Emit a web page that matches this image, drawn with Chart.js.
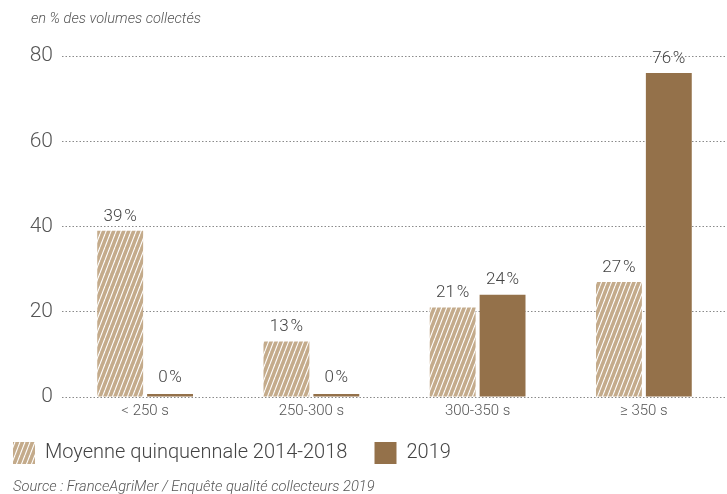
<!DOCTYPE html>
<html lang="fr">
<head>
  <meta charset="UTF-8" />
  <title>Volumes collectés par temps de chute</title>
  <script src="https://cdn.jsdelivr.net/npm/chart.js"></script>
  <style>
    body { margin: 0; background: #fff; }
    .wrap { position: relative; width: 727px; height: 494px; }
    .unit { position: absolute; left: 31px; top: 9px; font: italic 300 14.6px Roboto, sans-serif; color: #555; }
    .source { position: absolute; left: 13px; top: 477px; font: italic 300 14.7px Roboto, sans-serif; color: #555; }
  </style>
</head>
<body>
  <div class="wrap">
    <canvas id="chuteChart" width="727" height="494"></canvas>
    <div class="unit">en % des volumes collectés</div>
    <div class="source">Source : FranceAgriMer / Enquête qualité collecteurs 2019</div>
  </div>

  <script>
    const categories = ['< 250 s', '250-300 s', '300-350 s', '≥ 350 s'];
    const moyenne = [39, 13, 21, 27];
    const annee2019 = [0, 0, 24, 76];
    const yTicks = [0, 20, 40, 60, 80];

    const beige = '#c4ab8b';
    const brun = '#94714a';

    // hachures blanches obliques sur fond beige
    function hatch() {
      const c = document.createElement('canvas');
      c.width = 5; c.height = 13;
      const g = c.getContext('2d');
      g.fillStyle = beige;
      g.fillRect(0, 0, 5, 13);
      g.strokeStyle = '#fff';
      g.lineWidth = 1.1;
      for (const dx of [-5, 0, 5]) {
        g.beginPath();
        g.moveTo(dx, 13);
        g.lineTo(dx + 5, 0);
        g.stroke();
      }
      return g.createPattern(c, 'repeat');
    }

    const valueLabels = {
      id: 'valueLabels',
      afterDatasetsDraw(chart) {
        const ctx = chart.ctx;
        ctx.save();
        ctx.font = '300 17px Roboto, sans-serif';
        ctx.fillStyle = '#444';
        ctx.textAlign = 'center';
        ctx.textBaseline = 'bottom';
        chart.data.datasets.forEach((ds, i) => {
          chart.getDatasetMeta(i).data.forEach((bar, j) => {
            const top = Math.min(bar.y, bar.base) - (ds.data[j] === 0 ? 1.5 : 0);
            ctx.fillText(ds.data[j] + '\u200a%', bar.x, top - 6);
          });
        });
        ctx.restore();
      }
    };

    new Chart(document.getElementById('chuteChart'), {
      type: 'bar',
      data: {
        labels: categories,
        datasets: [
          {
            label: 'Moyenne quinquennale 2014-2018',
            data: moyenne,
            backgroundColor: hatch(),
            minBarLength: 3
          },
          {
            label: '2019',
            data: annee2019,
            backgroundColor: brun,
            minBarLength: 3
          }
        ]
      },
      options: {
        responsive: false,
        animation: false,
        categoryPercentage: 0.6,
        barPercentage: 0.92,
        layout: { padding: { top: 56, left: -6, right: 0, bottom: 20 } },
        plugins: {
          tooltip: { enabled: false },
          legend: {
            position: 'bottom',
            align: 'start',
            labels: {
              boxWidth: 22,
              boxHeight: 22,
              padding: 19,
              color: '#444',
              font: { family: 'Roboto, sans-serif', size: 20, weight: '300' },
              // un peu plus d'écart entre les deux entrées
              generateLabels(chart) {
                const items = Chart.defaults.plugins.legend.labels.generateLabels(chart);
                items.forEach((it, i) => { if (i < items.length - 1) it.text += '\u2009\u2009'; });
                return items;
              }
            }
          }
        },
        scales: {
          x: {
            afterFit(scale) { scale.height = 26; },
            grid: { display: false, drawTicks: false },
            border: { display: false },
            ticks: {
              color: '#555',
              padding: 11,
              font: { family: 'Roboto, sans-serif', size: 15, weight: '300', lineHeight: 0.4 }
            }
          },
          y: {
            min: 0,
            max: 80,
            afterFit(scale) { scale.width = 68; },
            afterBuildTicks(scale) { scale.ticks = yTicks.map(v => ({ value: v })); },
            border: { display: false, dash: [1.5, 2] },
            grid: { color: '#8a8a8a', drawTicks: false, lineWidth: 1 },
            ticks: {
              color: '#555',
              padding: 9,
              font: { family: 'Roboto, sans-serif', size: 21, weight: '300' }
            }
          }
        }
      },
      plugins: [valueLabels]
    });
  </script>
</body>
</html>
